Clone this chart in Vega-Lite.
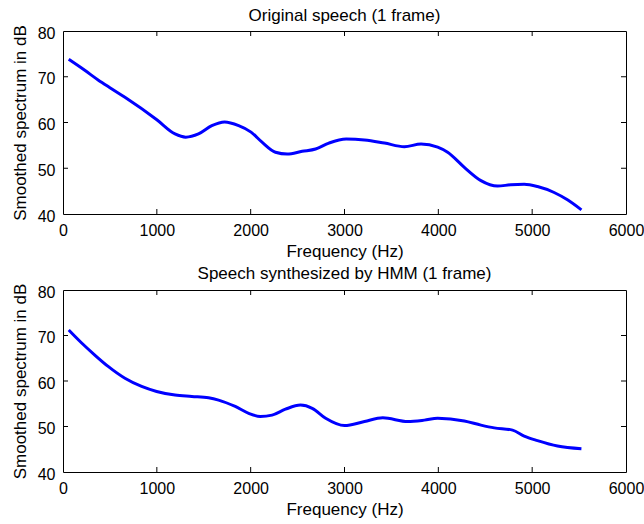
{
  "$schema": "https://vega.github.io/schema/vega-lite/v6.json",
  "padding": {"left": 10, "top": 6, "right": 2, "bottom": 5},
  "background": "white",
  "config": {
    "font": "Liberation Sans",
    "view": {"stroke": "#000", "strokeWidth": 1},
    "concat": {"spacing": 76},
    "tick": {"thickness": 1, "color": "#000000", "opacity": 1},
    "axis": {
      "grid": false,
      "domain": false,
      "ticks": false,
      "zindex": 2,
      "format": "d",
      "labelFont": "Liberation Sans",
      "labelFontSize": 16,
      "labelColor": "#000",
      "titleFont": "Liberation Sans",
      "titleFontSize": 17,
      "titleFontWeight": "normal",
      "titleColor": "#000"
    },
    "title": {"font": "Liberation Sans", "fontSize": 17, "fontWeight": "normal", "color": "#000"}
  },
  "datasets": {
    "orig": [
      {"f": 61, "db": 73.8}, {"f": 232, "db": 71.4}, {"f": 374, "db": 69.3}, {"f": 500, "db": 67.6},
      {"f": 660, "db": 65.5}, {"f": 1000, "db": 60.6}, {"f": 1194, "db": 57.5}, {"f": 1308, "db": 56.8},
      {"f": 1444, "db": 57.5}, {"f": 1586, "db": 59.3}, {"f": 1722, "db": 60.1}, {"f": 1872, "db": 59.3},
      {"f": 2004, "db": 57.9}, {"f": 2121, "db": 55.7}, {"f": 2264, "db": 53.5}, {"f": 2389, "db": 53.1},
      {"f": 2549, "db": 53.7}, {"f": 2692, "db": 54.2}, {"f": 2834, "db": 55.5}, {"f": 3018, "db": 56.4},
      {"f": 3213, "db": 56.2}, {"f": 3426, "db": 55.5}, {"f": 3638, "db": 54.7}, {"f": 3816, "db": 55.3},
      {"f": 3993, "db": 54.6}, {"f": 4099, "db": 53.5}, {"f": 4277, "db": 50.2}, {"f": 4454, "db": 47.3},
      {"f": 4631, "db": 46.1}, {"f": 4773, "db": 46.4}, {"f": 4915, "db": 46.5}, {"f": 5057, "db": 46.0},
      {"f": 5234, "db": 44.7}, {"f": 5376, "db": 43.1}, {"f": 5525, "db": 40.9}
    ],
    "hmm": [
      {"f": 61, "db": 71.2}, {"f": 196, "db": 68.4}, {"f": 339, "db": 65.7}, {"f": 481, "db": 63.2},
      {"f": 660, "db": 60.6}, {"f": 838, "db": 58.8}, {"f": 998, "db": 57.7}, {"f": 1194, "db": 56.9},
      {"f": 1373, "db": 56.6}, {"f": 1551, "db": 56.3}, {"f": 1658, "db": 55.8}, {"f": 1836, "db": 54.4},
      {"f": 1979, "db": 52.9}, {"f": 2103, "db": 52.2}, {"f": 2228, "db": 52.5}, {"f": 2371, "db": 53.8},
      {"f": 2531, "db": 54.7}, {"f": 2656, "db": 54.0}, {"f": 2799, "db": 51.8}, {"f": 3000, "db": 50.2},
      {"f": 3213, "db": 51.1}, {"f": 3408, "db": 51.9}, {"f": 3674, "db": 51.1}, {"f": 3851, "db": 51.4},
      {"f": 3993, "db": 51.8}, {"f": 4277, "db": 51.2}, {"f": 4454, "db": 50.3}, {"f": 4596, "db": 49.7},
      {"f": 4791, "db": 49.2}, {"f": 4915, "db": 47.9}, {"f": 5057, "db": 46.9}, {"f": 5270, "db": 45.7},
      {"f": 5525, "db": 45.1}
    ],
    "xt": [{"f": 1000}, {"f": 2000}, {"f": 3000}, {"f": 4000}, {"f": 5000}],
    "yt": [{"db": 50}, {"db": 60}, {"db": 70}]
  },
  "bounds": "flush",
  "vconcat": [
    {
      "title": {"text": "Original speech (1 frame)", "offset": 0},
      "width": 563,
      "height": 183,
      "layer": [
        {
          "data": {"name": "xt"},
          "mark": {"type": "tick", "orient": "vertical", "size": 5, "yOffset": -2.5},
          "encoding": {"x": {"field": "f", "type": "quantitative"}, "y": {"datum": 40}}
        },
        {
          "data": {"name": "xt"},
          "mark": {"type": "tick", "orient": "vertical", "size": 5, "yOffset": 2.5},
          "encoding": {"x": {"field": "f", "type": "quantitative"}, "y": {"datum": 80}}
        },
        {
          "data": {"name": "yt"},
          "mark": {"type": "tick", "orient": "horizontal", "size": 5, "xOffset": 2.5},
          "encoding": {"y": {"field": "db", "type": "quantitative"}, "x": {"datum": 0}}
        },
        {
          "data": {"name": "yt"},
          "mark": {"type": "tick", "orient": "horizontal", "size": 5, "xOffset": -2.5},
          "encoding": {"y": {"field": "db", "type": "quantitative"}, "x": {"datum": 6000}}
        },
        {
          "data": {"name": "orig"},
          "mark": {"type": "line", "color": "#0000ff", "strokeWidth": 3, "interpolate": "monotone"},
          "encoding": {
            "x": {"field": "f", "type": "quantitative", "scale": {"domain": [0, 6000], "nice": false},
                  "axis": {"values": [0, 1000, 2000, 3000, 4000, 5000, 6000], "title": "Frequency (Hz)", "labelPadding": 8, "titlePadding": 5, "labelFlush": false}},
            "y": {"field": "db", "type": "quantitative", "scale": {"domain": [40, 80], "nice": false, "zero": false},
                  "axis": {"values": [40, 50, 60, 70, 80], "title": "Smoothed spectrum in dB", "labelPadding": 8, "titlePadding": 8, "labelOffset": 2}}
          }
        }
      ]
    },
    {
      "title": {"text": "Speech synthesized by HMM (1 frame)", "offset": 0},
      "width": 563,
      "height": 182,
      "layer": [
        {
          "data": {"name": "xt"},
          "mark": {"type": "tick", "orient": "vertical", "size": 5, "yOffset": -2.5},
          "encoding": {"x": {"field": "f", "type": "quantitative"}, "y": {"datum": 40}}
        },
        {
          "data": {"name": "xt"},
          "mark": {"type": "tick", "orient": "vertical", "size": 5, "yOffset": 2.5},
          "encoding": {"x": {"field": "f", "type": "quantitative"}, "y": {"datum": 80}}
        },
        {
          "data": {"name": "yt"},
          "mark": {"type": "tick", "orient": "horizontal", "size": 5, "xOffset": 2.5},
          "encoding": {"y": {"field": "db", "type": "quantitative"}, "x": {"datum": 0}}
        },
        {
          "data": {"name": "yt"},
          "mark": {"type": "tick", "orient": "horizontal", "size": 5, "xOffset": -2.5},
          "encoding": {"y": {"field": "db", "type": "quantitative"}, "x": {"datum": 6000}}
        },
        {
          "data": {"name": "hmm"},
          "mark": {"type": "line", "color": "#0000ff", "strokeWidth": 3, "interpolate": "monotone"},
          "encoding": {
            "x": {"field": "f", "type": "quantitative", "scale": {"domain": [0, 6000], "nice": false},
                  "axis": {"values": [0, 1000, 2000, 3000, 4000, 5000, 6000], "title": "Frequency (Hz)", "labelPadding": 8, "titlePadding": 5, "labelFlush": false}},
            "y": {"field": "db", "type": "quantitative", "scale": {"domain": [40, 80], "nice": false, "zero": false},
                  "axis": {"values": [40, 50, 60, 70, 80], "title": "Smoothed spectrum in dB", "labelPadding": 8, "titlePadding": 8, "labelOffset": 2}}
          }
        }
      ]
    }
  ]
}
